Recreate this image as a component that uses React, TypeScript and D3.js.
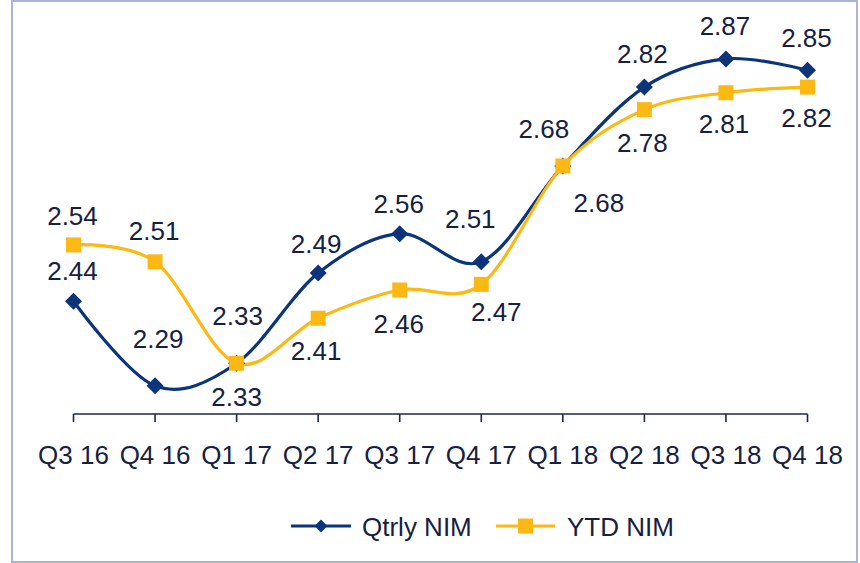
import React from "react";
import * as d3 from "d3";

const categories = ["Q3 16", "Q4 16", "Q1 17", "Q2 17", "Q3 17", "Q4 17", "Q1 18", "Q2 18", "Q3 18", "Q4 18"];
const qtrlyNim = [2.44, 2.29, 2.33, 2.49, 2.56, 2.51, 2.68, 2.82, 2.87, 2.85];
const ytdNim = [2.54, 2.51, 2.33, 2.41, 2.46, 2.47, 2.68, 2.78, 2.81, 2.82];
const seriesNames = ["Qtrly NIM", "YTD NIM"];

// label placement offsets (dx, baseline dy) relative to each point
const qtrlyLabelOffsets: [number, number][] = [
  [-1, -21], [3, -38], [1, -38], [-2, -20], [-1, -21], [-11, -34], [-19, -28], [-2, -24], [-1, -24], [-1, -23],
];
const ytdLabelOffsets: [number, number][] = [
  [-1, -20], [-1, -22], [0, 43], [-2, 42], [-1, 43], [15, 37], [36, 46], [-2, 42], [-2, 40], [-1, 40],
];

const W = 860;
const H = 563;
const NAVY = "#0B347A";
const GOLD = "#FDB813";
const TEXT = "#16203F";
const AXIS = "#1C2648";
const FONT = "'Liberation Sans', Arial, sans-serif";
const FS = 26;

export default function App() {
  const x = d3.scalePoint<string>().domain(categories).range([73.5, 807.5]);
  const y = d3.scaleLinear().domain([2.24, 2.9]).range([414, 42]);
  const curve = d3.curveCardinal.tension(0);
  const line = d3
    .line<number>()
    .x((_, i) => x(categories[i]) as number)
    .y((d) => y(d))
    .curve(curve);

  const diamond = (cx: number, cy: number, r: number) =>
    `M${cx},${cy - r}L${cx + r},${cy}L${cx},${cy + r}L${cx - r},${cy}Z`;

  const baseY = y.range()[0];

  return (
    <svg
      width={W}
      height={H}
      style={{ position: "absolute", left: 0, top: 0, background: "#fff" }}
      fontFamily={FONT}
    >
      <rect x={12} y={1} width={845} height={561} fill="#fff" stroke="#ADB3D3" strokeWidth={2} />

      {/* axis */}
      <line x1={x(categories[0])} x2={x(categories[categories.length - 1])} y1={baseY} y2={baseY} stroke={AXIS} strokeWidth={1.6} />
      {categories.map((c) => (
        <g key={c}>
          <line x1={x(c)} x2={x(c)} y1={baseY} y2={baseY + 8} stroke={AXIS} strokeWidth={1.6} />
          <text x={x(c)} y={464} textAnchor="middle" fontSize={FS} fill={TEXT}>
            {c}
          </text>
        </g>
      ))}

      {/* lines */}
      <path d={line(qtrlyNim) || ""} fill="none" stroke={NAVY} strokeWidth={3.2} />
      <path d={line(ytdNim) || ""} fill="none" stroke={GOLD} strokeWidth={3.2} />

      {qtrlyNim.map((v, i) => (
        <path key={"q" + i} d={diamond(x(categories[i]) as number, y(v), 8.5)} fill={NAVY} />
      ))}
      {ytdNim.map((v, i) => (
        <rect key={"y" + i} x={(x(categories[i]) as number) - 7.5} y={y(v) - 7.5} width={15} height={15} fill={GOLD} />
      ))}

      {/* labels */}
      {qtrlyNim.map((v, i) => (
        <text
          key={"ql" + i}
          x={(x(categories[i]) as number) + qtrlyLabelOffsets[i][0]}
          y={y(v) + qtrlyLabelOffsets[i][1]}
          textAnchor="middle"
          fontSize={FS}
          fill={TEXT}
        >
          {v.toFixed(2)}
        </text>
      ))}
      {ytdNim.map((v, i) => (
        <text
          key={"yl" + i}
          x={(x(categories[i]) as number) + ytdLabelOffsets[i][0]}
          y={y(v) + ytdLabelOffsets[i][1]}
          textAnchor="middle"
          fontSize={FS}
          fill={TEXT}
        >
          {v.toFixed(2)}
        </text>
      ))}

      {/* legend */}
      <g>
        <line x1={291} x2={351} y1={526} y2={526} stroke={NAVY} strokeWidth={3.2} />
        <path d={diamond(321, 526, 6.5)} fill={NAVY} />
        <text x={362} y={536} fontSize={FS} fill={TEXT}>{seriesNames[0]}</text>
        <line x1={496} x2={555} y1={526} y2={526} stroke={GOLD} strokeWidth={3.2} />
        <rect x={518} y={518.5} width={15} height={15} fill={GOLD} />
        <text x={567} y={536} fontSize={FS} fill={TEXT}>{seriesNames[1]}</text>
      </g>
    </svg>
  );
}
